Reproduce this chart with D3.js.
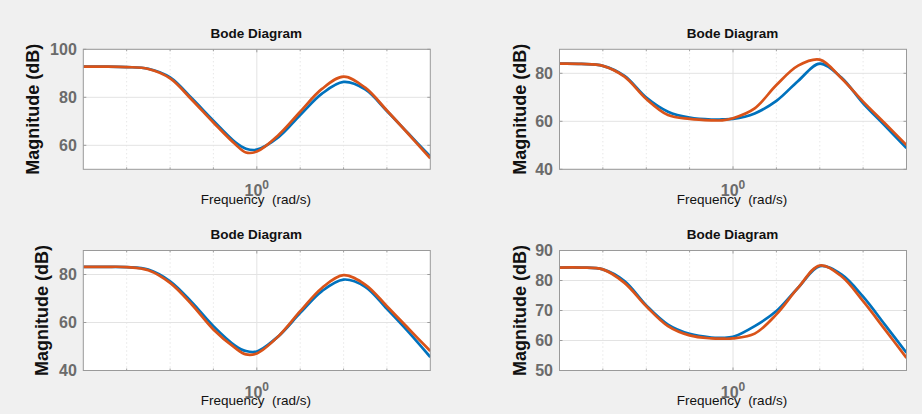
<!DOCTYPE html>
<html>
<head>
<meta charset="utf-8">
<script src="https://cdn.jsdelivr.net/npm/d3@7"></script>
<style>
  html, body { margin: 0; padding: 0; background: #f0f0f0; }
  svg { display: block; }
</style>
</head>
<body>
<div id="graph"></div>
<script>
// frequency samples (rad/s), shared by all four Bode panels
const freq = [0.398, 0.447, 0.501, 0.562, 0.631, 0.708, 0.794, 0.891, 0.944, 1.000,
              1.122, 1.259, 1.413, 1.585, 1.778, 1.995, 2.239, 2.512]

// magnitude (dB), blue + orange trace
const blue1   = [92.8, 92.8, 92.6, 91.9, 88.3, 79.6, 70.3, 61.4, 58.6, 58.2, 63.4, 72.6, 81.5, 86.4, 83.3, 74.3, 64.8, 55.3]
const orange1 = [92.8, 92.8, 92.6, 91.8, 87.9, 79.0, 69.5, 60.5, 57.0, 57.4, 64.3, 74.0, 83.5, 88.6, 84.0, 74.5, 64.6, 54.6]
const blue2   = [84.0, 83.9, 83.1, 78.9, 69.9, 64.0, 61.5, 60.7, 60.8, 61.0, 63.3, 68.5, 76.8, 84.0, 78.2, 67.5, 58.2, 48.8]
const orange2 = [84.0, 83.9, 83.1, 78.6, 69.3, 62.6, 61.0, 60.4, 60.4, 61.3, 65.4, 75.1, 83.2, 85.7, 77.9, 68.2, 59.2, 50.1]
const blue3   = [83.2, 83.2, 83.1, 82.1, 77.2, 68.5, 58.5, 50.4, 48.1, 47.9, 54.3, 64.0, 73.1, 77.9, 74.9, 65.7, 56.0, 45.6]
const orange3 = [83.2, 83.2, 83.1, 81.8, 76.5, 67.5, 57.1, 49.4, 46.7, 47.1, 54.3, 64.7, 74.4, 79.7, 75.8, 66.8, 57.4, 48.1]
const blue4   = [84.3, 84.3, 83.7, 79.8, 71.7, 65.3, 62.2, 61.0, 60.9, 61.2, 64.8, 69.8, 77.6, 84.8, 82.0, 74.6, 65.3, 55.9]
const orange4 = [84.3, 84.3, 83.7, 79.2, 71.4, 64.8, 61.7, 60.7, 60.6, 60.7, 62.3, 68.7, 77.6, 85.0, 81.4, 73.1, 63.7, 54.2]

// axes
const xDomain = [0.398, 2.512]
const xMajor = [1]
const xMinor = [0.501, 0.631, 0.794, 1.259, 1.585, 1.995]
const yDomains = [[50, 100], [40, 90], [40, 90], [50, 90]]
const yTicks = [[60, 80, 100], [40, 60, 80], [40, 60, 80], [50, 60, 70, 80, 90]]
const titles = ["Bode Diagram", "Bode Diagram", "Bode Diagram", "Bode Diagram"]

const blues = [blue1, blue2, blue3, blue4]
const oranges = [orange1, orange2, orange3, orange4]

const W = 922, H = 414
const pw = 347, ph = 120
// left, top, offset of the y label baseline from the box
const boxes = [
    {x: 83.3, y: 49.3, lab: 44},
    {x: 559.5, y: 49.3, lab: 34},
    {x: 83.3, y: 250.5, lab: 35.5},
    {x: 559.5, y: 250.5, lab: 34}
]
const font = "'Liberation Sans', Arial, Helvetica, sans-serif"
const tickGray = "#6b6b6b"

const svg = d3.select("#graph").append("svg")
    .attr("width", W)
    .attr("height", H)
    .style("font-family", font)

svg.append("rect").attr("width", W).attr("height", H).attr("fill", "#f0f0f0")

boxes.forEach((b, i) => {
    const x = d3.scaleLog().domain(xDomain).range([0, pw])
    const y = d3.scaleLinear().domain(yDomains[i]).range([ph, 0])

    const g = svg.append("g").attr("transform", `translate(${b.x},${b.y})`)

    g.append("rect").attr("width", pw).attr("height", ph).attr("fill", "white")

    // grid
    g.append("g").selectAll("line")
        .data(xMinor)
        .join("line")
        .attr("x1", d => x(d)).attr("x2", d => x(d))
        .attr("y1", 0).attr("y2", ph)
        .attr("stroke", "#d4d4d4")
        .attr("stroke-width", 0.8)
        .attr("stroke-dasharray", "1,3")

    g.append("g").selectAll("line")
        .data(xMajor)
        .join("line")
        .attr("x1", d => x(d)).attr("x2", d => x(d))
        .attr("y1", 0).attr("y2", ph)
        .attr("stroke", "#e3e3e3")

    g.append("g").selectAll("line")
        .data(yTicks[i])
        .join("line")
        .attr("x1", 0).attr("x2", pw)
        .attr("y1", d => y(d)).attr("y2", d => y(d))
        .attr("stroke", "#e3e3e3")

    // tick marks on all four sides
    const tk = g.append("g").attr("stroke", "#8a8a8a").attr("stroke-width", 0.8)
    yTicks[i].forEach(v => {
        tk.append("line").attr("x1", 0).attr("x2", 3).attr("y1", y(v)).attr("y2", y(v))
        tk.append("line").attr("x1", pw - 3).attr("x2", pw).attr("y1", y(v)).attr("y2", y(v))
    })
    xMajor.concat(xMinor).forEach(v => {
        const len = xMajor.includes(v) ? 3 : 2
        tk.append("line").attr("x1", x(v)).attr("x2", x(v)).attr("y1", ph).attr("y2", ph - len)
        tk.append("line").attr("x1", x(v)).attr("x2", x(v)).attr("y1", 0).attr("y2", len)
    })

    // traces
    const clipId = "clip" + i
    g.append("clipPath").attr("id", clipId)
        .append("rect").attr("width", pw).attr("height", ph)

    const line = (vals) => d3.line()
        .x((d, k) => x(freq[k]))
        .y(d => y(d))
        .curve(d3.curveCatmullRom.alpha(0.5))(vals)

    const traces = g.append("g").attr("clip-path", `url(#${clipId})`)
    traces.append("path")
        .attr("d", line(blues[i]))
        .attr("fill", "none")
        .attr("stroke", "#0072BD")
        .attr("stroke-width", 2.7)
    traces.append("path")
        .attr("d", line(oranges[i]))
        .attr("fill", "none")
        .attr("stroke", "#D95319")
        .attr("stroke-width", 2.7)

    // box
    g.append("rect").attr("width", pw).attr("height", ph)
        .attr("fill", "none").attr("stroke", "#9a9a9a").attr("stroke-width", 1)

    // y tick labels
    g.append("g").selectAll("text")
        .data(yTicks[i])
        .join("text")
        .attr("x", -6.5)
        .attr("y", d => y(d))
        .attr("dy", "0.36em")
        .attr("text-anchor", "end")
        .attr("font-size", 16)
        .attr("font-weight", "bold")
        .attr("fill", tickGray)
        .text(d => d)

    // x tick label 10^0
    xMajor.forEach(v => {
        const t = g.append("text")
            .attr("x", x(v))
            .attr("y", ph + 27.2)
            .attr("text-anchor", "middle")
            .attr("font-size", 16)
            .attr("font-weight", "bold")
            .attr("fill", tickGray)
        t.append("tspan").text("10")
        t.append("tspan").attr("dy", -7).attr("font-size", 12).text(Math.round(Math.log10(v)))
    })

    // x label
    g.append("text")
        .attr("x", pw / 2 - 1)
        .attr("y", ph + 34.7)
        .attr("text-anchor", "middle")
        .attr("font-size", 13.5)
        .attr("fill", "#111")
        .style("white-space", "pre")
        .text("Frequency  (rad/s)")

    // y label
    g.append("text")
        .attr("transform", `translate(${-b.lab},${ph / 2}) rotate(-90)`)
        .attr("text-anchor", "middle")
        .attr("font-size", 18)
        .attr("font-weight", "bold")
        .attr("fill", "#111")
        .text("Magnitude (dB)")

    // title
    g.append("text")
        .attr("x", pw / 2 - 0.5)
        .attr("y", -11.8)
        .attr("text-anchor", "middle")
        .attr("font-size", 13.5)
        .attr("font-weight", "bold")
        .attr("fill", "#111")
        .text(titles[i])
})
</script>
</body>
</html>
